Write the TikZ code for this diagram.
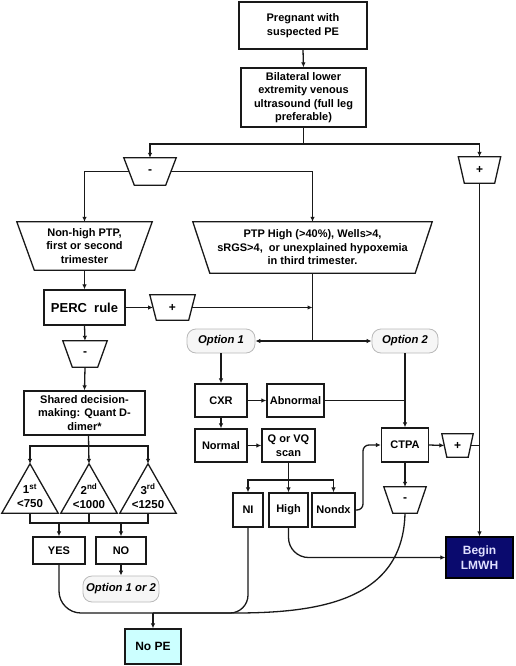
\documentclass[tikz,border=0pt]{standalone}
\usepackage{fontspec}
\setmainfont{Liberation Sans}
\usetikzlibrary{arrows.meta,calc}
\definecolor{nopecol}{HTML}{CCFFFF}
\definecolor{navy}{HTML}{0A0A6E}
\definecolor{lmwhtxt}{HTML}{E0E0FF}
\newcommand\trapz[2]{\draw[line] (#1.north west) -- (#1.north east) -- ([xshift=-#2]#1.south east) -- ([xshift=#2]#1.south west) -- cycle;}
\newcommand\tria[1]{\draw[line] (#1.north) -- (#1.south east) -- (#1.south west) -- cycle;}
\begin{document}
\begin{tikzpicture}[x=1pt,y=-1pt,
 line/.style={line width=1.3pt, draw=black!90},
 arr/.style={line, -{Latex[length=5pt,width=4.5pt]}},
 txt/.style={inner sep=0pt, align=center, font=\fontsize{11}{13.5}\selectfont\bfseries},
 box/.style={txt, draw=black!90, line width=1.3pt, fill=white},
 ghost/.style={inner sep=0pt, align=center, font=\fontsize{12}{14}\selectfont\bfseries},
 opt/.style={inner sep=0pt, draw=gray!55, line width=0.8pt, rounded corners=9pt, fill=gray!7, font=\fontsize{11.3}{13}\selectfont\bfseries\itshape}
]
\useasboundingbox (0,0) rectangle (515,666);

% top
\node[box, minimum width=128, minimum height=47] (b1) at (303,25.5) {Pregnant with\\suspected PE};
\node[box, minimum width=125, minimum height=59] (b2) at (303.5,97.5) {Bilateral lower\\extremity venous\\ultrasound (full leg\\preferable)};
\coordinate (j1) at (303.5,144);

\node[ghost, minimum width=52, minimum height=27] (m1) at (150,171.5) {-};
\trapz{m1}{10.5}
\node[ghost, minimum width=42, minimum height=26] (p1) at (479.5,170) {+};
\trapz{p1}{6}

\node[txt, minimum width=135, minimum height=48] (nh) at (84.5,246) {Non-high PTP,\\first or second\\trimester};
\trapz{nh}{17.5}
\node[txt, minimum width=239, minimum height=51] (ph) at (312.5,247.5) {PTP High (>40\%), Wells>4,\\sRGS>4,\ \ or unexplained hypoxemia\\in third trimester.};
\trapz{ph}{17}

\node[box, minimum width=81, minimum height=35, font=\fontsize{13}{15}\selectfont\bfseries] (perc) at (84.5,307.5) {PERC\ \ rule};
\node[ghost, minimum width=45, minimum height=25] (p2) at (172.5,307.5) {+};
\trapz{p2}{6.5}
\coordinate (c1) at (312.5,307.5);
\coordinate (c2) at (312.5,341);

\node[opt, minimum width=68, minimum height=24] (o1) at (221,341) {Option 1};
\node[opt, minimum width=66, minimum height=24] (o2) at (405,341) {Option 2};

\node[ghost, minimum width=44, minimum height=26] (m2) at (85,354) {-};
\trapz{m2}{9.5}
\node[box, minimum width=121, minimum height=44] (sd) at (84.5,413) {Shared decision-\\making: Quant D-\\dimer*};
\coordinate (j2) at (88.5,446);

\node[ghost, minimum width=56, minimum height=49] (t1) at (30,488.5) {};
\tria{t1}
\node[ghost, minimum width=56, minimum height=49] (t2) at (89,488.5) {};
\tria{t2}
\node[ghost, minimum width=56, minimum height=49] (t3) at (148,488.5) {};
\tria{t3}
\node[txt, font=\fontsize{11.5}{14}\selectfont\bfseries] (tl1) at (30,496) {1\textsuperscript{st}\\<750};
\node[txt, font=\fontsize{11.5}{14}\selectfont\bfseries] (tl2) at (89,496) {2\textsuperscript{nd}\\<1000};
\node[txt, font=\fontsize{11.5}{14}\selectfont\bfseries] (tl3) at (148,496) {3\textsuperscript{rd}\\<1250};
\coordinate (j3) at (89,523);

\node[box, minimum width=52, minimum height=27] (yes) at (59,550.5) {YES};
\node[box, minimum width=50, minimum height=27] (no) at (121,550.5) {NO};
\node[opt, minimum width=76, minimum height=26] (o3) at (121,589) {Option 1 or 2};
\node[box, fill=nopecol, minimum width=56, minimum height=35, font=\fontsize{12}{14}\selectfont\bfseries] (nope) at (153,646.5) {No PE};
\coordinate (j4) at (153,613);

% right part
\node[box, minimum width=52, minimum height=33] (cxr) at (221,400.5) {CXR};
\node[box, minimum width=57, minimum height=33] (abn) at (295.5,400.5) {Abnormal};
\node[box, minimum width=52, minimum height=33] (nor) at (221,445.5) {Normal};
\node[box, minimum width=53, minimum height=33] (qvq) at (288.5,445.5) {Q or VQ\\scan};
\node[box, minimum width=47, minimum height=34] (ctpa) at (405,445) {CTPA};
\node[ghost, minimum width=31, minimum height=23] (p3) at (457.5,445.5) {+};
\trapz{p3}{5}
\node[ghost, minimum width=42, minimum height=26] (m3) at (405,500) {-};
\trapz{m3}{9}
\coordinate (j5) at (288.5,480);
\node[box, minimum width=30, minimum height=34] (ni) at (248,510) {NI};
\node[box, minimum width=39, minimum height=34] (high) at (288.5,510) {High};
\node[box, minimum width=43, minimum height=34] (ndx) at (333.5,510) {Nondx};
\node[box, fill=navy, draw=black, text=lmwhtxt, minimum width=67, minimum height=41, font=\fontsize{12}{15}\selectfont\bfseries] (lmwh) at (479.5,557.5) {Begin\\LMWH};

% connectors
\draw[arr] (b1.south) -- (b2.north);
\draw[line] (b2.south) -- (j1);
\draw[arr] (j1) -| (m1.north);
\draw[arr] (j1) -| (p1.north);
\draw[arr] ([xshift=5.25]m1.west) -| (nh.north);
\draw[arr] ([xshift=-5.25]m1.east) -| (ph.north);
\draw[arr] (nh.south) -- (perc.north);
\draw[arr] (perc.east) -- ([xshift=3.25]p2.west);
\draw[arr] ([xshift=-3.25]p2.east) -- (c1);
\draw[line] (ph.south) -- (c2);
\draw[arr] (c2) -- (o1.east);
\draw[arr] (c2) -- (o2.west);
\draw[arr] (perc.south) -- (m2.north);
\draw[arr] (m2.south) -- (sd.north);
\draw[arr] (sd.south -| j2) -- (t2.north);
\draw[arr] (j2) -| (t1.north);
\draw[arr] (j2) -| (t3.north);
\draw[line] (t1.south) -- (t1.south |- j3) -- (t3.south |- j3) -- (t3.south);
\draw[line] (t2.south) -- (j3);
\draw[arr] (yes.north |- j3) -- (yes.north);
\draw[arr] (no.north |- j3) -- (no.north);
\draw[arr] (no.south) -- (o3.north);
\draw[arr] (j4) -- (nope.north);
\draw[line, rounded corners=22] (yes.south) -- (yes.south |- j4) -- (j4);
\draw[line, rounded corners=18] (ni.south) -- (ni.south |- j4) -- (j4);
\draw[line] (m3.south) .. controls (403,600) and (320,613) .. (235,613) -- (j4);

\draw[arr] (o1.south) -- (cxr.north);
\draw[arr] (cxr.east) -- (abn.west);
\draw[arr] (cxr.south) -- (nor.north);
\draw[arr] (nor.east) -- (qvq.west);
\draw[arr] (o2.south) -- (ctpa.north);
\draw[line] (abn.east) -- (abn.east -| ctpa.north);
\draw[line] (qvq.south) -- (j5);
\draw[arr] (j5) -| (ni.north);
\draw[arr] (j5) -| (ndx.north);
\draw[arr] (j5) -- (high.north);
\draw[arr, rounded corners=6] (ndx.east) -| (363,445) -- (ctpa.west);
\draw[arr] (ctpa.east) -- ([xshift=2.5]p3.west);
\draw[line] ([xshift=-2.5]p3.east) -- (p3.east -| p1.south);
\draw[arr] (p1.south) -- (lmwh.north);
\draw[arr] (ctpa.south) -- (m3.north);
\draw[arr, rounded corners=20] (high.south) |- (lmwh.west);
\end{tikzpicture}
\end{document}
